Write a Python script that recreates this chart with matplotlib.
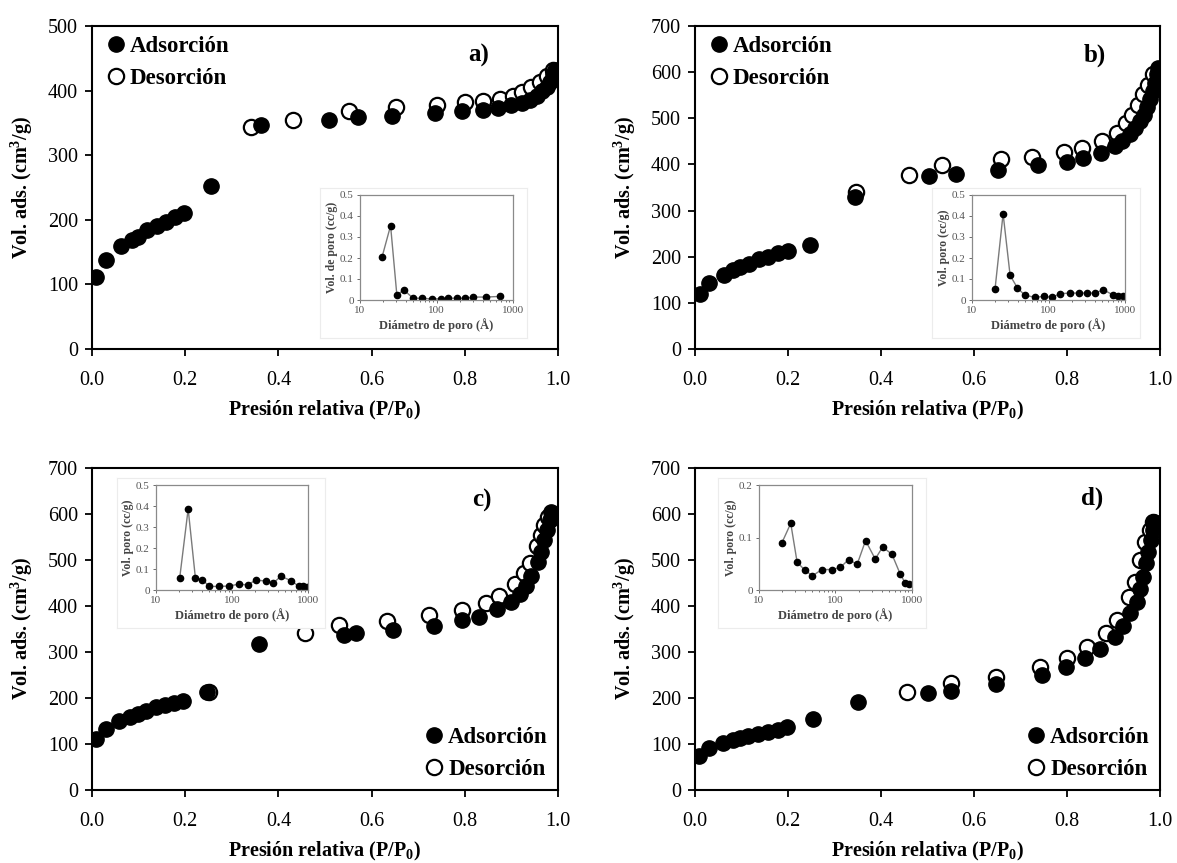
"""
Isotermas de adsorción-desorción de N2 con distribución de poro (insets)
"""
import numpy as np
import matplotlib
matplotlib.use('Agg')
import matplotlib.pyplot as plt
from matplotlib.lines import Line2D

plt.rcParams['font.family'] = ['Liberation Serif', 'DejaVu Serif']
plt.rcParams['mathtext.fontset'] = 'custom'
plt.rcParams['mathtext.rm'] = 'Liberation Serif'
plt.rcParams['mathtext.bf'] = 'Liberation Serif:bold'

# ---------------- datos: isotermas ----------------
a_ads_p = [0.009, 0.030, 0.062, 0.085, 0.099, 0.119, 0.139, 0.159, 0.178, 0.197, 0.255, 0.362,
           0.509, 0.570, 0.643, 0.736, 0.795, 0.838, 0.872, 0.900, 0.922, 0.940, 0.954, 0.965,
           0.976, 0.983, 0.990, 0.994]
a_ads_v = [112, 138, 159, 169, 174, 184, 190, 196, 204, 211, 253, 346,
           355, 359, 360, 365, 368, 370, 373, 378, 381, 386, 392, 399,
           406, 414, 425, 432]
a_des_p = [0.341, 0.432, 0.551, 0.653, 0.740, 0.800, 0.840, 0.876, 0.904, 0.922, 0.943, 0.961, 0.976, 0.990]
a_des_v = [344, 354, 369, 375, 378, 382, 384, 387, 392, 398, 405, 413, 422, 432]

b_ads_p = [0.011, 0.031, 0.062, 0.082, 0.097, 0.117, 0.138, 0.158, 0.178, 0.199, 0.247, 0.344,
           0.504, 0.562, 0.652, 0.738, 0.799, 0.835, 0.874, 0.904, 0.919, 0.935, 0.947, 0.956,
           0.965, 0.972, 0.979, 0.985, 0.990, 0.994, 0.996]
b_ads_v = [119, 143, 161, 172, 178, 185, 194, 200, 207, 212, 226, 330,
           375, 380, 388, 398, 406, 414, 425, 440, 450, 465, 479, 494,
           508, 525, 541, 559, 577, 595, 610]
b_des_p = [0.346, 0.461, 0.532, 0.659, 0.725, 0.794, 0.832, 0.875, 0.908, 0.926, 0.940, 0.953, 0.963, 0.974, 0.985]
b_des_v = [340, 378, 398, 411, 416, 427, 436, 450, 469, 489, 508, 529, 552, 573, 595]

c_ads_p = [0.009, 0.030, 0.059, 0.081, 0.098, 0.116, 0.137, 0.157, 0.176, 0.196, 0.246, 0.359,
           0.541, 0.566, 0.646, 0.734, 0.795, 0.831, 0.869, 0.899, 0.918, 0.932, 0.943, 0.957,
           0.964, 0.971, 0.976, 0.982, 0.986]
c_ads_v = [111, 132, 149, 159, 165, 172, 180, 185, 190, 194, 212, 317,
           337, 341, 348, 357, 370, 377, 393, 409, 426, 444, 465, 496,
           518, 543, 565, 587, 605]
c_des_p = [0.250, 0.457, 0.531, 0.632, 0.724, 0.793, 0.845, 0.874, 0.907, 0.926, 0.939, 0.955, 0.964, 0.971, 0.979]
c_des_v = [212, 341, 359, 368, 380, 391, 407, 422, 448, 472, 493, 530, 554, 576, 594]

d_ads_p = [0.009, 0.031, 0.061, 0.082, 0.097, 0.115, 0.136, 0.158, 0.178, 0.197, 0.254, 0.351,
           0.500, 0.550, 0.647, 0.747, 0.797, 0.839, 0.872, 0.903, 0.921, 0.935, 0.950, 0.957,
           0.964, 0.970, 0.975, 0.980, 0.984, 0.988]
d_ads_v = [74, 91, 103, 109, 112, 117, 122, 126, 130, 136, 154, 192,
           210, 216, 230, 251, 268, 286, 307, 333, 357, 384, 409, 436,
           464, 493, 518, 543, 565, 583]
d_des_p = [0.455, 0.550, 0.647, 0.743, 0.801, 0.844, 0.884, 0.907, 0.934, 0.946, 0.957, 0.968, 0.978, 0.986]
d_des_v = [212, 232, 246, 268, 288, 310, 341, 370, 420, 453, 500, 540, 565, 583]

# ---------------- datos: distribución de poro ----------------
a_psd_d = [19.5, 25.1, 30.3, 37.6, 49.3, 65.5, 88.6, 113, 142, 183, 236, 304, 441, 668]
a_psd_v = [0.207, 0.354, 0.025, 0.047, 0.009, 0.008, 0.005, 0.006, 0.008, 0.009, 0.008, 0.014, 0.014, 0.017]

b_psd_d = [20.0, 25.5, 31.5, 39.3, 49.4, 66.9, 86.8, 112, 141, 190, 249, 321, 409, 520, 689, 818, 951]
b_psd_v = [0.052, 0.411, 0.117, 0.057, 0.022, 0.013, 0.017, 0.013, 0.030, 0.033, 0.033, 0.033, 0.033,
           0.049, 0.025, 0.021, 0.019]

c_psd_d = [20.5, 26.5, 33.0, 40.5, 50.5, 67.0, 91.0, 124, 160, 205, 280, 350, 440, 600, 750, 860, 960]
c_psd_v = [0.057, 0.386, 0.057, 0.049, 0.017, 0.017, 0.019, 0.028, 0.024, 0.047, 0.043, 0.033, 0.066,
           0.044, 0.019, 0.017, 0.016]

d_psd_d = [19.8, 26.0, 31.5, 39.6, 50.0, 66.3, 89.6, 116, 148, 192, 247, 331, 413, 547, 703, 818, 914]
d_psd_v = [0.089, 0.127, 0.053, 0.038, 0.027, 0.039, 0.039, 0.043, 0.058, 0.049, 0.094, 0.059, 0.082,
           0.068, 0.030, 0.013, 0.011]

W, H = 1177, 863
fig = plt.figure(figsize=(W / 100, H / 100), dpi=100)


def px_rect(left, top, right, bottom):
    return [left / W, 1 - bottom / H, (right - left) / W, (bottom - top) / H]


panels = [
    dict(rect=px_rect(92, 26, 558, 349), ymax=500, ads=(a_ads_p, a_ads_v), des=(a_des_p, a_des_v),
         letter='a)', lpos=(0.83, 0.91), leg='upper left',
         inset=px_rect(360, 195, 513, 300), bg=px_rect(320, 188, 527, 338),
         psd=(a_psd_d, a_psd_v), pymax=0.5, pylabel='Vol. de poro (cc/g)'),
    dict(rect=px_rect(695, 26, 1160, 349), ymax=700, ads=(b_ads_p, b_ads_v), des=(b_des_p, b_des_v),
         letter='b)', lpos=(0.86, 0.91), leg='upper left',
         inset=px_rect(972, 195, 1125, 300), bg=px_rect(932, 188, 1140, 338),
         psd=(b_psd_d, b_psd_v), pymax=0.5, pylabel='Vol. poro (cc/g)'),
    dict(rect=px_rect(92, 468, 558, 790), ymax=700, ads=(c_ads_p, c_ads_v), des=(c_des_p, c_des_v),
         letter='c)', lpos=(0.837, 0.90), leg='lower right',
         inset=px_rect(156, 485, 308, 590), bg=px_rect(117, 478, 325, 628),
         psd=(c_psd_d, c_psd_v), pymax=0.5, pylabel='Vol. poro (cc/g)'),
    dict(rect=px_rect(695, 468, 1160, 790), ymax=700, ads=(d_ads_p, d_ads_v), des=(d_des_p, d_des_v),
         letter='d)', lpos=(0.855, 0.907), leg='lower right',
         inset=px_rect(759, 485, 912, 590), bg=px_rect(718, 478, 926, 628),
         psd=(d_psd_d, d_psd_v), pymax=0.2, pylabel='Vol. poro (cc/g)'),
]

for p in panels:
    ax = fig.add_axes(p['rect'])
    ax.plot(p['des'][0], p['des'][1], 'o', ms=11, mfc='white', mec='black', mew=1.6, zorder=3)
    ax.plot(p['ads'][0], p['ads'][1], 'o', ms=11, mfc='black', mec='black', zorder=4)
    ax.set_xlim(0, 1.0)
    ax.set_ylim(0, p['ymax'])
    ax.set_xticks(np.arange(0, 1.01, 0.2))
    ax.set_xticklabels([f'{t:.1f}' for t in np.arange(0, 1.01, 0.2)])
    ax.set_yticks(np.arange(0, p['ymax'] + 1, 100))
    ax.tick_params(direction='out', length=5, width=1.3, labelsize=14.5)
    ax.tick_params(axis='x', pad=11)
    ax.tick_params(axis='y', pad=5)
    for s in ax.spines.values():
        s.set_linewidth(1.5)
    ax.set_xlabel(r'Presión relativa (P/P$_{\mathbf{0}}$)', fontsize=14.5, fontweight='bold', labelpad=6)
    ax.set_ylabel(r'Vol. ads. (cm$^{\mathbf{3}}$/g)', fontsize=14.5, fontweight='bold', labelpad=9)
    ax.text(p['lpos'][0], p['lpos'][1], p['letter'], transform=ax.transAxes,
            fontsize=18, fontweight='bold', ha='center', va='center')

    handles = [Line2D([], [], ls='', marker='o', ms=11, mfc='black', mec='black'),
               Line2D([], [], ls='', marker='o', ms=11, mfc='white', mec='black', mew=1.6)]
    ax.legend(handles, ['Adsorción', 'Desorción'], loc=p['leg'], frameon=False,
              prop={'weight': 'bold', 'size': 16.5}, handletextpad=0.0, handlelength=1.2,
              borderaxespad=0.05, labelspacing=0.45)

    # fondo blanco del inset
    bg = fig.add_axes(p['bg'], zorder=5)
    bg.set_xticks([])
    bg.set_yticks([])
    for s in bg.spines.values():
        s.set_color('#ececec')
        s.set_linewidth(0.8)

    ins = fig.add_axes(p['inset'], zorder=6)
    ins.plot(p['psd'][0], p['psd'][1], '-', color='#7a7a7a', lw=1.0)
    ins.plot(p['psd'][0], p['psd'][1], 'o', color='black', ms=4.5)
    ins.set_xscale('log')
    ins.set_xlim(10, 1000)
    ins.set_ylim(0, p['pymax'])
    ins.set_xticks([10, 100, 1000])
    ins.set_xticklabels(['10', '100', '1000'])
    if p['pymax'] == 0.5:
        ins.set_yticks([0, 0.1, 0.2, 0.3, 0.4, 0.5])
        ins.set_yticklabels(['0', '0.1', '0.2', '0.3', '0.4', '0.5'])
    else:
        ins.set_yticks([0, 0.1, 0.2])
        ins.set_yticklabels(['0', '0.1', '0.2'])
    ins.tick_params(which='both', direction='out', labelsize=8, colors='#555555', length=2.5, width=0.6, pad=2)
    ins.tick_params(which='minor', length=1.5)
    for s in ins.spines.values():
        s.set_color('#8a8a8a')
        s.set_linewidth(0.9)
    ins.set_xlabel('Diámetro de poro (Å)', fontsize=9, fontweight='bold', color='#444444', labelpad=2)
    ins.set_ylabel(p['pylabel'], fontsize=8.5, fontweight='bold', color='#444444', labelpad=1)

plt.savefig('out.png', dpi=100)
plt.close()
